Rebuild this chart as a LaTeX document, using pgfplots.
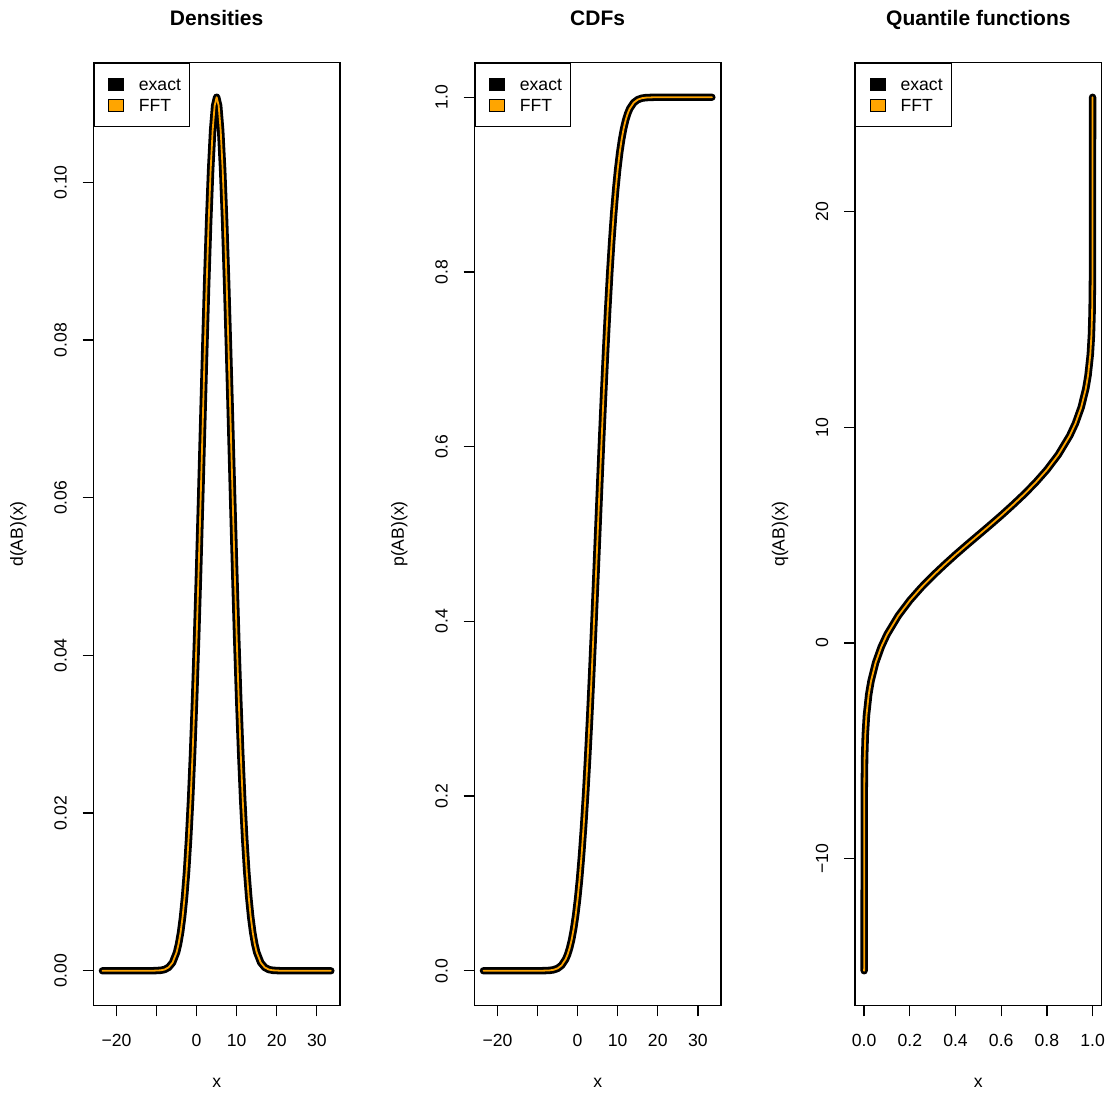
\documentclass[border=0pt]{standalone}
\usepackage{fontspec}
\setmainfont{Liberation Sans}
\usepackage{pgfplots}
\pgfplotsset{compat=1.18}
\definecolor{rorange}{RGB}{255,165,0}

\pgfplotstableread{
x y
-23.5 0
-15 0
-13 0.0000004
-11 0.0000057
-9 0.00006
-8 0.00016
-7 0.00043
-6 0.00104
-5 0.00234
-4.5 0.00341
-4 0.00487
-3.5 0.00682
-3 0.00938
-2.5 0.01265
-2 0.01673
-1.5 0.02171
-1 0.02763
-0.5 0.03449
0 0.04223
0.5 0.05073
1 0.05977
1.5 0.06907
2 0.07830
2.5 0.08706
3 0.09496
3.5 0.10159
4 0.10661
4.5 0.10974
5 0.11080
5.5 0.10974
6 0.10661
6.5 0.10159
7 0.09496
7.5 0.08706
8 0.07830
8.5 0.06907
9 0.05977
9.5 0.05073
10 0.04223
10.5 0.03449
11 0.02763
11.5 0.02171
12 0.01673
12.5 0.01265
13 0.00938
13.5 0.00682
14 0.00487
14.5 0.00341
15 0.00234
16 0.00104
17 0.00043
18 0.00016
19 0.00006
21 0.0000057
23 0.0000004
25 0
33.5 0
}\dens

\pgfplotstableread{
x y
-23.5 0
-11 0
-9 0.00005
-7 0.00043
-6 0.00112
-5 0.00274
-4 0.0062
-3 0.0131
-2.5 0.0186
-2 0.0259
-1.5 0.0355
-1 0.0478
-0.5 0.0633
0 0.0824
0.5 0.1056
1 0.1333
1.5 0.1656
2 0.2023
2.5 0.2437
3 0.2892
3.5 0.3385
4 0.3906
4.5 0.4448
5 0.5
5.5 0.5552
6 0.6094
6.5 0.6615
7 0.7108
7.5 0.7563
8 0.7977
8.5 0.8345
9 0.8667
9.5 0.8944
10 0.9176
10.5 0.9367
11 0.9522
11.5 0.9645
12 0.9741
12.5 0.9814
13 0.9869
14 0.9938
15 0.99726
16 0.99888
17 0.99957
19 0.99995
21 1
33.5 1
}\cdf

\pgfplotstableread{
p q
0 -15.2
0.0005 -6.84
0.002 -5.36
0.005 -4.27
0.01 -3.37
0.02 -2.39
0.03 -1.77
0.05 -0.92
0.075 -0.18
0.1 0.39
0.15 1.27
0.2 1.97
0.25 2.57
0.3 3.11
0.35 3.61
0.4 4.09
0.45 4.55
0.5 5.00
0.55 5.45
0.6 5.91
0.65 6.39
0.7 6.89
0.75 7.43
0.8 8.03
0.85 8.73
0.9 9.61
0.925 10.18
0.95 10.92
0.97 11.77
0.98 12.39
0.99 13.37
0.995 14.27
0.998 15.36
0.9995 16.84
1 25.3
}\quant

\pgfplotsset{
  rpanel/.style={
    scale only axis, width=123.35pt, height=471.7pt,
    anchor=north west,
    axis line style={line width=0.65pt},
    tick pos=left, tick align=outside, major tick length=5.35pt,
    tick style={line width=0.65pt, black},
    font=\fontsize{8.8}{10.5}\selectfont,
    xticklabel style={anchor=north, inner sep=0pt, yshift=-8.8pt},
    yticklabel style={xshift=-7.75pt, rotate=90, anchor=south, inner sep=0pt},
    xlabel style={at={(axis description cs:0.5,-0.0818)}, anchor=center},
    ylabel style={at={(axis description cs:-0.304,0.5)}, anchor=center},
    title style={at={(axis description cs:0.5,1)}, anchor=base, yshift=12.3pt, font=\bfseries\fontsize{10.5}{12}\selectfont},
    legend style={at={(0,1)}, anchor=north west, draw=black, line width=0.6pt,
      inner xsep=4.3pt, inner ysep=7.2pt, row sep=3.9pt, cells={anchor=west},
      nodes={inner sep=0pt, text height=6.7pt, text depth=0pt},
      font=\fontsize{8.8}{10}\selectfont},
    legend image code/.code={\path[draw=none,fill=none] (0pt,-3pt) rectangle (18.2pt,3pt); \draw[##1] (3.2pt,-3pt) rectangle (10.4pt,3pt);},
  },
  exactline/.style={black, line width=3.7pt, line cap=round, line join=round, forget plot},
  fftline/.style={rorange, line width=0.9pt, line cap=round, line join=round, forget plot},
}

\begin{document}
\begin{tikzpicture}
\path[use as bounding box] (0pt,0pt) rectangle (556.5pt,-546.5pt);

\begin{axis}[rpanel, at={(46.65pt,-31.15pt)},
  title={Densities}, xlabel={x}, ylabel={d(AB)(x)},
  xmin=-25.78, xmax=35.78, ymin=-0.00443, ymax=0.11523,
  xtick={-20,-10,0,10,20,30}, xticklabels={−20,,0,10,20,30},
  ytick={0,0.02,0.04,0.06,0.08,0.1}, yticklabels={0.00,0.02,0.04,0.06,0.08,0.10}]
\addlegendimage{fill=black, draw=black, line width=0.5pt}
\addlegendimage{fill=rorange, draw=black, line width=0.5pt}
\addplot[exactline] table[x=x,y=y] {\dens};
\addplot[fftline] table[x=x,y=y] {\dens};
\legend{exact,FFT}
\end{axis}

\begin{axis}[rpanel, at={(237.15pt,-31.15pt)},
  title={CDFs}, xlabel={x}, ylabel={p(AB)(x)},
  xmin=-25.78, xmax=35.78, ymin=-0.04, ymax=1.04,
  xtick={-20,-10,0,10,20,30}, xticklabels={−20,,0,10,20,30},
  ytick={0,0.2,0.4,0.6,0.8,1}, yticklabels={0.0,0.2,0.4,0.6,0.8,1.0}]
\addlegendimage{fill=black, draw=black, line width=0.5pt}
\addlegendimage{fill=rorange, draw=black, line width=0.5pt}
\addplot[exactline] table[x=x,y=y] {\cdf};
\addplot[fftline] table[x=x,y=y] {\cdf};
\legend{exact,FFT}
\end{axis}

\begin{axis}[rpanel, at={(427.5pt,-31.15pt)},
  title={Quantile functions}, xlabel={x}, ylabel={q(AB)(x)},
  xmin=-0.04, xmax=1.04, ymin=-16.82, ymax=26.92,
  xtick={0,0.2,0.4,0.6,0.8,1}, xticklabels={0.0,0.2,0.4,0.6,0.8,1.0},
  ytick={-10,0,10,20}, yticklabels={−10,0,10,20}]
\addlegendimage{fill=black, draw=black, line width=0.5pt}
\addlegendimage{fill=rorange, draw=black, line width=0.5pt}
\addplot[exactline] table[x=p,y=q] {\quant};
\addplot[fftline] table[x=p,y=q] {\quant};
\legend{exact,FFT}
\end{axis}
\end{tikzpicture}
\end{document}
